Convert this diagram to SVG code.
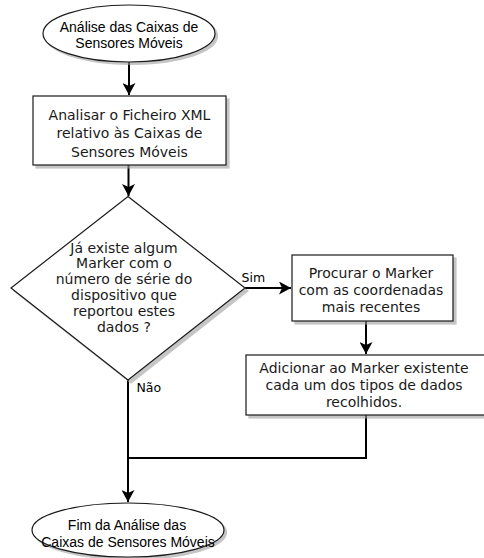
<svg xmlns="http://www.w3.org/2000/svg" width="484" height="558" viewBox="0 0 484 558">
  <style>
    .shape { fill: #ffffff; stroke: #1a1a1a; stroke-width: 1.2; }
    .shadow { fill: #a0a0a0; stroke: #a0a0a0; stroke-width: 1.2; opacity: 0.6; }
    .edge { fill: none; stroke: #000000; stroke-width: 2; }
    .box { font-family: "DejaVu Sans", Verdana, sans-serif; font-size: 14px; fill: #1a1a1a; text-anchor: middle; }
    .term { font-family: "Liberation Sans", Arial, sans-serif; font-size: 14px; fill: #000000; text-anchor: middle; }
    .lbl { font-family: "DejaVu Sans", Verdana, sans-serif; font-size: 12.5px; fill: #000000; }
  </style>
  <defs>
    <marker id="arrow" markerUnits="userSpaceOnUse" viewBox="0 0 12 13" refX="12" refY="6.5" markerWidth="12" markerHeight="13" orient="auto">
      <path d="M0,0 L12,6.5 L0,13 L3,6.5 Z" fill="#000000"/>
    </marker>
  </defs>

  <g id="connectors">
    <path class="edge" d="M129,62 L129,95" marker-end="url(#arrow)"/>
    <path class="edge" d="M128.5,165 L128.5,196" marker-end="url(#arrow)"/>
    <path class="edge" d="M245,288 L291,288" marker-end="url(#arrow)"/>
    <path class="edge" d="M366,321 L366,354" marker-end="url(#arrow)"/>
    <path class="edge" d="M128,380 L128,502" marker-end="url(#arrow)"/>
    <path class="edge" d="M366,415 L366,458 L128,458"/>
    <text class="lbl" x="241.5" y="282">Sim</text>
    <text class="lbl" x="136.5" y="391.5">Não</text>
  </g>

  <g id="start">
    <ellipse class="shadow" cx="131.5" cy="36" rx="86" ry="28.5"/>
    <ellipse class="shape" cx="129" cy="33.5" rx="86" ry="28.5"/>
    <text class="term" x="129" y="32">Análise das Caixas de</text>
    <text class="term" x="129" y="48">Sensores Móveis</text>
  </g>

  <g id="parse-xml">
    <rect class="shadow" x="36" y="99" width="193" height="69"/>
    <rect class="shape" x="33" y="96" width="193" height="69"/>
    <text class="box" x="129.5" y="120">Analisar o Ficheiro XML</text>
    <text class="box" x="129.5" y="138.3">relativo às Caixas de</text>
    <text class="box" x="129.5" y="156.7">Sensores Móveis</text>
  </g>

  <g id="marker-exists">
    <path class="shadow" d="M131,199.5 L248,291 L131,383 L14,291 Z"/>
    <path class="shape" d="M128,196.5 L245,288 L128,380 L11,288 Z"/>
    <text class="box" font-size="14.5" x="124" y="252.5">Já existe algum</text>
    <text class="box" font-size="14.5" x="124" y="268.4">Marker com o</text>
    <text class="box" font-size="14.5" x="124" y="284.3">número de série do</text>
    <text class="box" font-size="14.5" x="124" y="300.2">dispositivo que</text>
    <text class="box" font-size="14.5" x="124" y="316.1">reportou estes</text>
    <text class="box" font-size="14.5" x="124" y="332">dados ?</text>
  </g>

  <g id="find-marker">
    <rect class="shadow" x="295" y="258" width="161" height="66"/>
    <rect class="shape" x="292" y="255" width="161" height="66"/>
    <text class="box" x="371" y="278.3">Procurar o Marker</text>
    <text class="box" x="371" y="295">com as coordenadas</text>
    <text class="box" x="371" y="311.7">mais recentes</text>
  </g>

  <g id="add-data">
    <rect class="shadow" x="249" y="358" width="240" height="60"/>
    <rect class="shape" x="246" y="355" width="240" height="60"/>
    <text class="box" x="364" y="373.3">Adicionar ao Marker existente</text>
    <text class="box" x="364" y="390">cada um dos tipos de dados</text>
    <text class="box" x="364" y="406.7">recolhidos.</text>
  </g>

  <g id="end">
    <ellipse class="shadow" cx="130.5" cy="532.5" rx="96" ry="27"/>
    <ellipse class="shape" cx="128" cy="530" rx="96" ry="27"/>
    <text class="term" x="127" y="530">Fim da Análise das</text>
    <text class="term" x="128" y="546.5">Caixas de Sensores Móveis</text>
  </g>
</svg>
